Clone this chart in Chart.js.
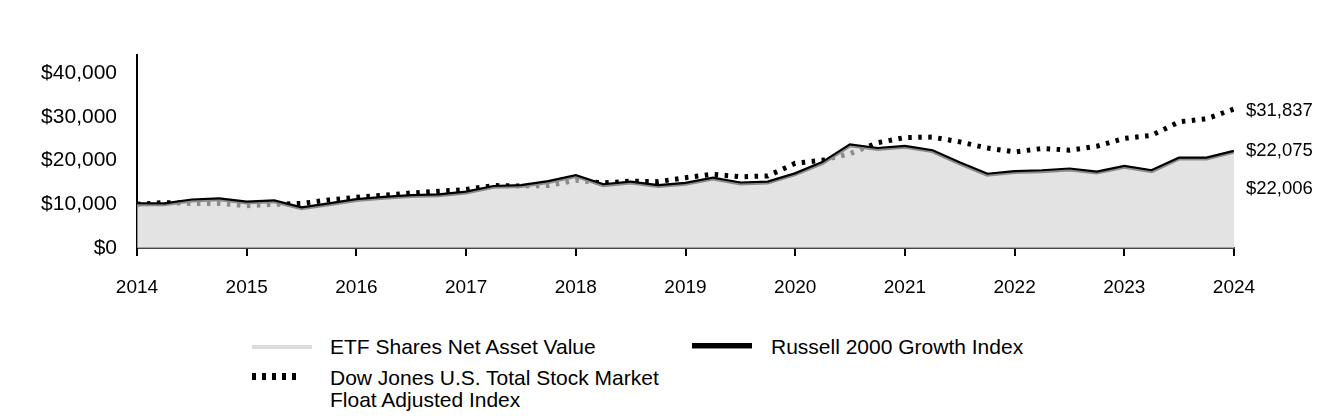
<!DOCTYPE html>
<html><head><meta charset="utf-8">
<script src="https://cdn.jsdelivr.net/npm/chart.js@4.4.1/dist/chart.umd.min.js"></script>
<style>
html,body{margin:0;padding:0;background:#fff;width:1344px;height:420px;overflow:hidden;font-family:"Liberation Sans",Arial,sans-serif;}
#wrap{position:absolute;left:0;top:0;width:1344px;height:320px;}
.lt{position:absolute;font-size:21px;color:#000;line-height:22px;white-space:nowrap;}
.sw{position:absolute;}
</style></head>
<body>
<div id="wrap"><canvas id="c" width="1344" height="320"></canvas></div>
<div id="legend">
  <div class="sw" style="left:252px;top:345px;width:60px;height:4px;background:#dcdcdc;"></div>
  <div class="lt" style="left:330px;top:336px;">ETF Shares Net Asset Value</div>
  <div class="sw" style="left:692px;top:343px;width:60px;height:5px;background:#000;border-bottom:1px solid #8a8a8a;"></div>
  <div class="lt" style="left:771px;top:336px;">Russell 2000 Growth Index</div>
  <div class="sw" style="left:252px;top:373px;width:44px;height:7px;background:repeating-linear-gradient(90deg,#000 0px,#000 4px,transparent 4px,transparent 10px);"></div>
  <div class="lt" style="left:330px;top:367px;">Dow Jones U.S. Total Stock Market<br>Float Adjusted Index</div>
</div>
<script>
const quarters = [2014,2014.25,2014.5,2014.75,2015,2015.25,2015.5,2015.75,2016,2016.25,2016.5,2016.75,
  2017,2017.25,2017.5,2017.75,2018,2018.25,2018.5,2018.75,2019,2019.25,2019.5,2019.75,
  2020,2020.25,2020.5,2020.75,2021,2021.25,2021.5,2021.75,2022,2022.25,2022.5,2022.75,
  2023,2023.25,2023.5,2023.75,2024];
const yearTicks = [2014,2015,2016,2017,2018,2019,2020,2021,2022,2023,2024];
const etfValues = [10000,9950,10850,11100,10350,10650,9050,9950,10950,11450,11850,12050,
  12650,13950,14150,15050,16450,14350,14950,14150,14650,15850,14750,14950,
  16850,19450,23450,22650,23150,22150,19350,16750,17350,17550,17950,17250,
  18550,17550,20450,20450,22006];
const russellValues = [10000,10000,10900,11150,10400,10700,9100,10000,11000,11500,11900,12100,
  12700,14000,14200,15100,16500,14400,15000,14200,14700,15900,14800,15000,
  16900,19500,23500,22700,23200,22200,19400,16800,17400,17600,18000,17300,
  18600,17600,20500,20500,22075];
const dowValues = [10000,10400,10200,10200,9700,10000,10200,11000,11600,12100,12600,13000,
  13400,14300,14200,14300,15500,14900,15300,15200,16100,16900,16300,16500,
  19400,20100,21600,24100,25300,25400,24300,22900,22000,22800,22400,23300,
  25100,25800,28900,29600,31837];
const yTickValues = [0,10000,20000,30000,40000];

const FONT = '"Liberation Sans", Arial, sans-serif';
const fmt = v => '$' + Math.round(v).toLocaleString('en-US');
const pts = arr => quarters.map((x,i)=>({x, y: arr[i]}));
const last = quarters.length - 1;

const endLabelPlugin = {
  id:'endLabels',
  afterDatasetsDraw(chart){
    const ctx = chart.ctx, xs = chart.scales.x, ys = chart.scales.y;
    const xEnd = xs.getPixelForValue(quarters[last]) + 12;
    ctx.save();
    ctx.font = '18.5px ' + FONT;
    ctx.fillStyle = '#000';
    ctx.textAlign = 'left';
    ctx.textBaseline = 'middle';
    ctx.fillText(fmt(dowValues[last]), xEnd, ys.getPixelForValue(dowValues[last]) + 2);
    ctx.fillText(fmt(russellValues[last]), xEnd, ys.getPixelForValue(russellValues[last]) - 1);
    ctx.fillText(fmt(etfValues[last]), xEnd, ys.getPixelForValue(etfValues[last]) + 37);
    ctx.restore();
  }
};

new Chart(document.getElementById('c'), {
  type:'line',
  data:{datasets:[
    {label:'ETF Shares Net Asset Value', data:pts(etfValues), borderColor:'rgba(0,0,0,0)', borderWidth:0,
     backgroundColor:'rgba(212,212,212,0.66)', fill:'origin', pointRadius:0, tension:0, order:0},
    {label:'Russell 2000 Growth Index', data:pts(russellValues), borderColor:'#000', borderWidth:4,
     fill:false, pointRadius:0, tension:0, order:1, borderJoinStyle:'miter'},
    {label:'Dow Jones U.S. Total Stock Market Float Adjusted Index', data:pts(dowValues), borderColor:'#000', borderWidth:5,
     borderDash:[3.5,6.5], borderCapStyle:'butt', fill:false, pointRadius:0, tension:0, order:2}
  ]},
  options:{
    responsive:false, animation:false, devicePixelRatio:1,
    layout:{padding:{left:0,right:110,top:55,bottom:0}},
    plugins:{legend:{display:false}, tooltip:{enabled:false}},
    scales:{
      x:{type:'linear', min:2014, max:2024,
        afterBuildTicks(s){ s.ticks = yearTicks.map(v=>({value:v})); },
        afterFit(s){ s.height = 72; },
        ticks:{callback:v=>String(v), font:{family:FONT,size:19}, color:'#000', padding:20, maxRotation:0, autoSkip:false},
        grid:{drawOnChartArea:false, drawTicks:true, tickLength:8, color:'#000', lineWidth:2},
        border:{display:true, color:'#444', width:2}
      },
      y:{min:0, max:44200,
        afterBuildTicks(s){ s.ticks = yTickValues.map(v=>({value:v})); },
        afterFit(s){ s.width = 137; },
        ticks:{callback:v=>fmt(v), font:{family:FONT,size:21}, color:'#000', padding:20},
        grid:{display:true, drawOnChartArea:false, drawTicks:false},
        border:{display:true, color:'#000', width:2}
      }
    }
  },
  plugins:[endLabelPlugin]
});
</script>
</body></html>
